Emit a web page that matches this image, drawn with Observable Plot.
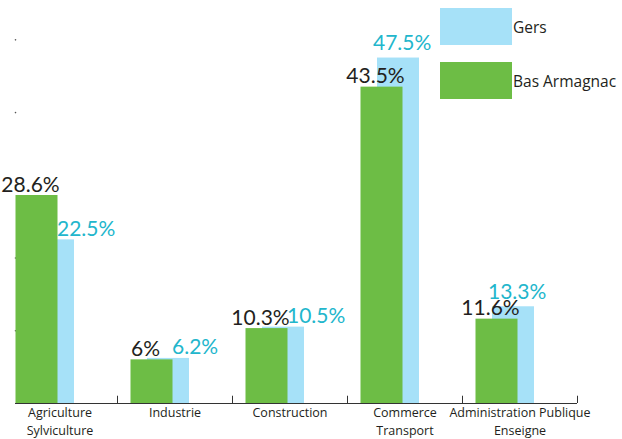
<!DOCTYPE html>
<html>
<head>
<meta charset="utf-8">
<script src="https://cdn.jsdelivr.net/npm/d3@7"></script>
<script src="https://cdn.jsdelivr.net/npm/@observablehq/plot@0.6"></script>
<style>
  html, body { margin: 0; padding: 0; background: #fff; }
  #wrap { position: relative; width: 622px; height: 439px; }
  #legend { position: absolute; left: 440px; top: 8px; font-family: "Open Sans", sans-serif; font-size: 15.5px; color: #231f20; }
  .item { display: flex; align-items: center; height: 37px; margin-bottom: 17px; }
  .sw { width: 72px; height: 37px; margin-right: 1px; }
</style>
</head>
<body>
<div id="wrap"><div id="legend"></div></div>
<script>
const categories = ["Agriculture\nSylviculture", "Industrie", "Construction", "Commerce\nTransport", "Administration Publique\nEnseigne"];
const basArmagnac = [28.6, 6, 10.3, 43.5, 11.6];
const gers = [22.5, 6.2, 10.5, 47.5, 13.3];
const yTicks = [10, 20, 30, 40, 50];
const seriesNames = ["Gers", "Bas Armagnac"];
const seriesColors = ["#a6e1f8", "#6dbd45"];

const green = categories.map((c, i) => ({cat: c, v: basArmagnac[i]}));
const blue = categories.map((c, i) => ({cat: c, v: gers[i]}));
const fmt = d => `${d.v}%`;
const blueLeft = blue.filter((d, i) => i < 3);
const blueRight = blue.filter((d, i) => i >= 3);

const chart = Plot.plot({
  width: 622,
  height: 439,
  marginLeft: 15,
  marginRight: 45,
  marginTop: 3,
  marginBottom: 36,
  style: {fontFamily: "Open Sans, sans-serif", background: "#fff"},
  x: {domain: categories, range: [2, 577], padding: 0, axis: null},
  y: {domain: [0, 55], axis: null},
  marks: [
    Plot.dot(yTicks, {y: d => d, frameAnchor: "left", r: 0.8, fill: "#555", stroke: "none"}),
    Plot.barY(blue, {x: "cat", y: "v", fill: seriesColors[0], insetLeft: 30, insetRight: 43}),
    Plot.barY(green, {x: "cat", y: "v", fill: seriesColors[1], insetLeft: 13.5, insetRight: 59.5}),
    Plot.ruleY([0], {stroke: "#333", strokeWidth: 1}),
    Plot.ruleX(categories, {x: d => d, y1: 0, y2: 1, dx: 57.5, stroke: "#333", strokeWidth: 1}),
    Plot.text(green, {x: "cat", y: "v", text: fmt, dx: -29.5, dy: -4, lineAnchor: "bottom", fontFamily: "Lato, sans-serif", fontSize: 21, fill: "#231f20"}),
    Plot.text(blueLeft, {x: "cat", y: "v", text: fmt, dx: -3, dy: -4, textAnchor: "start", lineAnchor: "bottom", fontFamily: "Lato, sans-serif", fontSize: 21, fill: "#22b6cc"}),
    Plot.text(blueRight, {x: "cat", y: "v", text: fmt, dx: -32, dy: -8, textAnchor: "start", lineAnchor: "bottom", fontFamily: "Lato, sans-serif", fontSize: 21, fill: "#22b6cc"}),
    Plot.text(categories, {x: d => d, text: d => d, frameAnchor: "bottom", lineAnchor: "top", dy: 1, lineHeight: 1.42, fontFamily: "Open Sans, sans-serif", fontSize: 12.5, fill: "#231f20"})
  ]
});
document.getElementById("wrap").prepend(chart);

const legend = document.getElementById("legend");
seriesNames.forEach((name, i) => {
  const item = document.createElement("div");
  item.className = "item";
  const sw = document.createElement("div");
  sw.className = "sw";
  sw.style.background = seriesColors[i];
  const label = document.createElement("span");
  label.textContent = name;
  item.append(sw, label);
  legend.append(item);
});
</script>
</body>
</html>
